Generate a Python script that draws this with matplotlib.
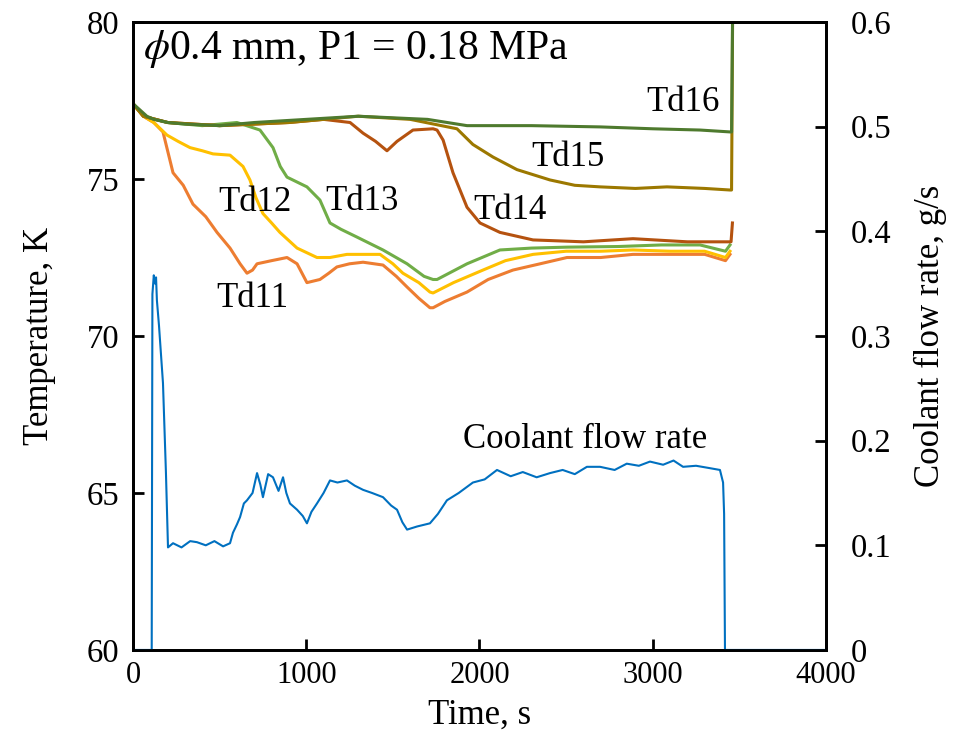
import matplotlib.pyplot as plt

plt.rcParams['font.family'] = ['Liberation Serif', 'DejaVu Serif']
plt.rcParams['mathtext.fontset'] = 'stix'

# Temperature traces (time in s, temperature in K)
t11 = [0, 60, 120, 173, 231, 290, 346, 420, 485, 560, 618, 658, 690, 716, 800, 889, 947, 1004, 1079, 1130, 1177,
       1250, 1328, 1443, 1520, 1582, 1650, 1714, 1732, 1800, 1928, 2050, 2193, 2350, 2505, 2700, 2886, 3100, 3300,
       3420, 3446]
T11 = [77.4, 77.0, 76.8, 76.5, 75.2, 74.8, 74.2, 73.8, 73.3, 72.8, 72.3, 72.0, 72.1, 72.3, 72.4, 72.5, 72.3, 71.7,
       71.8, 72.0, 72.2, 72.3, 72.35, 72.26, 71.9, 71.56, 71.2, 70.9, 70.9, 71.1, 71.4, 71.8, 72.1, 72.3, 72.5, 72.5,
       72.6, 72.6, 72.6, 72.4, 72.6]

t12 = [0, 60, 120, 196, 260, 329, 400, 462, 560, 635, 675, 710, 750, 800, 848, 947, 1062, 1137, 1235, 1330, 1426,
       1500, 1558, 1650, 1714, 1732, 1850, 2020, 2150, 2309, 2500, 2700, 2886, 3100, 3300, 3420, 3446]
T12 = [77.4, 77.0, 76.8, 76.4, 76.2, 76.0, 75.9, 75.8, 75.76, 75.4, 74.97, 74.4, 73.9, 73.6, 73.3, 72.8, 72.5, 72.5,
       72.6, 72.6, 72.6, 72.3, 72.0, 71.7, 71.4, 71.37, 71.7, 72.1, 72.4, 72.6, 72.7, 72.7, 72.74, 72.7, 72.7, 72.5,
       72.7]

t13 = [0, 60, 200, 400, 600, 733, 808, 850, 889, 1004, 1079, 1137, 1200, 1293, 1443, 1582, 1680, 1732, 1755,
       1928, 2118, 2300, 2505, 2800, 3050, 3273, 3420, 3446]
T13 = [77.4, 77.0, 76.8, 76.7, 76.8, 76.56, 76.0, 75.4, 75.06, 74.75, 74.33, 73.6, 73.4, 73.15, 72.74, 72.3, 71.9,
       71.8, 71.8, 72.3, 72.74, 72.8, 72.83, 72.85, 72.9, 72.9, 72.7, 72.9]

t14 = [0, 60, 200, 500, 900, 1100, 1253, 1328, 1400, 1466, 1524, 1616, 1732, 1755, 1790, 1847, 1928, 2003, 2118,
       2309, 2600, 2886, 3200, 3429, 3452, 3460]
T14 = [77.4, 77.0, 76.8, 76.7, 76.8, 76.9, 76.8, 76.46, 76.2, 75.9, 76.2, 76.56, 76.6, 76.56, 76.24, 75.2, 74.1,
       73.6, 73.3, 73.06, 73.0, 73.1, 73.0, 73.0, 73.0, 73.6]

t15 = [0, 60, 200, 500, 900, 1300, 1600, 1870, 1962, 2078, 2216, 2407, 2550, 2696, 2900, 3082, 3300, 3446, 3455,
       3462]
T15 = [77.4, 77.0, 76.8, 76.7, 76.8, 77.0, 76.9, 76.6, 76.1, 75.7, 75.3, 74.97, 74.8, 74.75, 74.7, 74.75, 74.7,
       74.65, 74.65, 81.0]

t16 = [0, 40, 80, 120, 200, 300, 500, 700, 1000, 1300, 1500, 1700, 1928, 2300, 2696, 3000, 3273, 3446, 3455, 3462]
T16 = [77.4, 77.2, 77.0, 76.9, 76.8, 76.75, 76.7, 76.8, 76.9, 77.0, 76.95, 76.9, 76.7, 76.7, 76.66, 76.6, 76.56,
       76.5, 76.5, 81.0]

# Coolant flow rate (g/s)
tf = [0, 108, 112, 120, 128, 133, 138, 150, 173, 190, 202, 231, 280, 330, 369, 420, 470, 520, 560, 577, 600, 618,
      640, 658, 690, 716, 735, 750, 780, 808, 840, 866, 885, 906, 947, 980, 1004, 1030, 1062, 1100, 1137, 1180, 1235,
      1280, 1328, 1380, 1443, 1490, 1524, 1555, 1582, 1640, 1714, 1760, 1812, 1880, 1962, 2030, 2101, 2180, 2250,
      2330, 2407, 2480, 2550, 2620, 2696, 2780, 2850, 2920, 2984, 3060, 3120, 3175, 3250, 3320, 3388, 3406, 3412,
      3417, 4000]
Ff = [0.0, 0.0, 0.34, 0.358, 0.35, 0.356, 0.334, 0.31, 0.255, 0.17, 0.098, 0.102, 0.098, 0.104, 0.103, 0.100, 0.104,
      0.099, 0.102, 0.112, 0.12, 0.127, 0.14, 0.143, 0.150, 0.169, 0.158, 0.146, 0.168, 0.165, 0.152, 0.165, 0.150,
      0.140, 0.134, 0.128, 0.121, 0.132, 0.140, 0.150, 0.162, 0.160, 0.162, 0.157, 0.153, 0.150, 0.146, 0.138, 0.134,
      0.122, 0.115, 0.118, 0.121, 0.130, 0.143, 0.150, 0.160, 0.163, 0.172, 0.166, 0.170, 0.165, 0.169, 0.172,
      0.168, 0.175, 0.175, 0.172, 0.178, 0.176, 0.180, 0.177, 0.181, 0.175, 0.176, 0.174, 0.172, 0.160, 0.13, 0.0,
      0.0]

series = [
    (t11, T11, '#ED7D31'),
    (t12, T12, '#FFC000'),
    (t13, T13, '#70AD47'),
    (t14, T14, '#B5520F'),
    (t15, T15, '#9C7800'),
    (t16, T16, '#4E7A2E'),
]

fig = plt.figure(figsize=(9.61, 7.47), dpi=100)
ax = fig.add_axes([0.1384, 0.1299, 0.7211, 0.8406])
ax2 = ax.twinx()

for tx, ty, c in series:
    ax.plot(tx, ty, color=c, lw=2.2)

ax2.plot(tf, Ff, color='#0070C0', lw=1.5)

ax.set_xlim(0, 4000)
ax.set_ylim(60, 80)
ax2.set_ylim(0, 0.6)
ax.set_xticks([0, 1000, 2000, 3000, 4000])
ax.set_yticks([60, 65, 70, 75, 80])
ax2.set_yticks([0, 0.1, 0.2, 0.3, 0.4, 0.5, 0.6])
ax2.set_yticklabels(['0', '0.1', '0.2', '0.3', '0.4', '0.5', '0.6'])

fs = 23.5
ax.tick_params(direction='in', length=8, width=2, labelsize=fs, pad=10)
ax2.tick_params(direction='in', length=8, width=2, labelsize=fs, pad=18)
ax.tick_params(axis='x', pad=8, labelsize=22)
for a in (ax, ax2):
    for s in a.spines.values():
        s.set_linewidth(2)

ax.set_xlabel('Time, s', fontsize=25, labelpad=6)
ax.set_ylabel('Temperature, K', fontsize=25, labelpad=22)
ax2.set_ylabel('Coolant flow rate, g/s', fontsize=25, labelpad=16)

ann = 25
ax.text(55, 79.15, r'$\phi$0.4 mm, P1 = 0.18 MPa', fontsize=30, va='center', ha='left')
ax.text(3175, 77.45, 'Td16', fontsize=ann, ha='center', va='center')
ax.text(2511, 75.67, 'Td15', fontsize=ann, ha='center', va='center')
ax.text(2176, 74.0, 'Td14', fontsize=ann, ha='center', va='center')
ax.text(1322, 74.27, 'Td13', fontsize=ann, ha='center', va='center')
ax.text(704, 74.24, 'Td12', fontsize=ann, ha='center', va='center')
ax.text(687, 71.2, 'Td11', fontsize=ann, ha='center', va='center')
ax.text(2609, 66.69, 'Coolant flow rate', fontsize=ann, ha='center', va='center')

fig.savefig('out.png', dpi=100)
